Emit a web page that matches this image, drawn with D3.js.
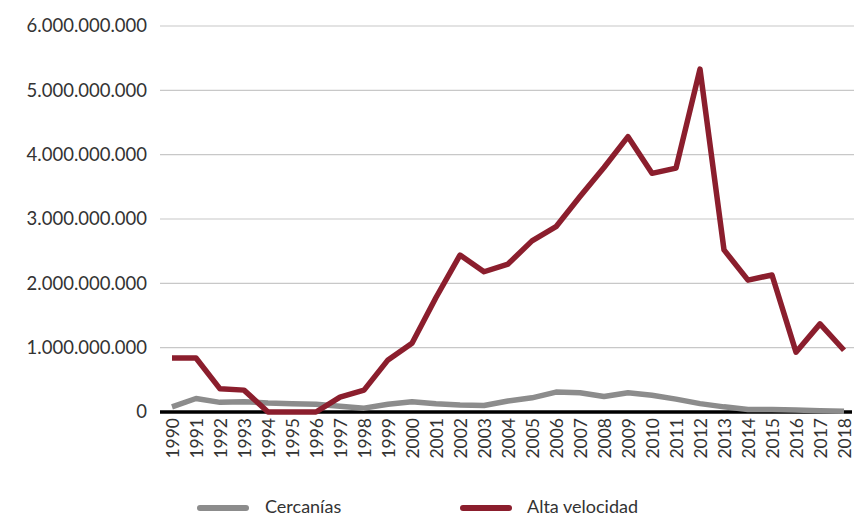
<!DOCTYPE html>
<html>
<head>
<meta charset="utf-8">
<script src="https://cdn.jsdelivr.net/npm/d3@7"></script>
<style>
  body { margin: 0; background: #fff; }
  svg { display: block; }
  text { font-family: Lato, "Open Sans", sans-serif; fill: #333; }
</style>
</head>
<body>
<svg id="chart" width="854" height="518"></svg>
<script>
const years = ["1990","1991","1992","1993","1994","1995","1996","1997","1998","1999","2000","2001","2002","2003","2004","2005","2006","2007","2008","2009","2010","2011","2012","2013","2014","2015","2016","2017","2018"];
const cercanias = [0.08e9,0.21e9,0.15e9,0.16e9,0.14e9,0.13e9,0.12e9,0.09e9,0.06e9,0.12e9,0.16e9,0.13e9,0.11e9,0.10e9,0.17e9,0.22e9,0.31e9,0.30e9,0.24e9,0.30e9,0.26e9,0.20e9,0.13e9,0.08e9,0.04e9,0.04e9,0.03e9,0.02e9,0.01e9];
const altaVelocidad = [0.84e9,0.84e9,0.36e9,0.34e9,0,0,0,0.23e9,0.34e9,0.81e9,1.07e9,1.78e9,2.44e9,2.18e9,2.30e9,2.66e9,2.88e9,3.35e9,3.80e9,4.28e9,3.71e9,3.79e9,5.33e9,2.52e9,2.05e9,2.13e9,0.93e9,1.37e9,0.96e9];
const yTicks = [0,1e9,2e9,3e9,4e9,5e9,6e9];
const seriesNames = ["Cercanías","Alta velocidad"];
const colors = ["#8c8c8c","#8b1e2d"];

const svg = d3.select("#chart");
const x = d3.scaleBand().domain(years).range([160, 856]);
const y = d3.scaleLinear().domain([0, 6e9]).range([412, 26]);
const fmt = v => v === 0 ? "0" : d3.format(",")(v).replace(/,/g, ".");

// gridlines
svg.append("g").selectAll("line").data(yTicks.filter(d => d > 0)).join("line")
  .attr("x1", 160).attr("x2", 854)
  .attr("y1", d => y(d)).attr("y2", d => y(d))
  .attr("stroke", "#c8c8c8").attr("stroke-width", 1.2);

// y labels
svg.append("g").selectAll("text").data(yTicks).join("text")
  .attr("x", 147).attr("y", d => y(d)).attr("dy", "0.35em")
  .attr("text-anchor", "end").attr("font-size", 18.5)
  .text(fmt);

// x axis line
svg.append("line").attr("x1", 160).attr("x2", 852).attr("y1", y(0)).attr("y2", y(0))
  .attr("stroke", "#000").attr("stroke-width", 3.5);

// x labels
svg.append("g").selectAll("text").data(years).join("text")
  .attr("transform", d => `translate(${x(d) + x.bandwidth()/2 + 6.5},418) rotate(-90)`)
  .attr("text-anchor", "end").attr("font-size", 17.5)
  .text(d => d);

const line = d3.line().x((d, i) => x(years[i]) + x.bandwidth()/2).y(d => y(d));
[cercanias, altaVelocidad].forEach((s, k) => {
  svg.append("path").datum(s).attr("d", line)
    .attr("fill", "none").attr("stroke", colors[k]).attr("stroke-width", 5.5)
    .attr("stroke-linejoin", "round").attr("stroke-linecap", "butt");
});

// legend
const legend = [{x: 200, tx: 265}, {x: 463, tx: 527}];
seriesNames.forEach((n, k) => {
  svg.append("line").attr("x1", legend[k].x).attr("x2", legend[k].x + 46)
    .attr("y1", 508).attr("y2", 508)
    .attr("stroke", colors[k]).attr("stroke-width", 6).attr("stroke-linecap", "round");
  svg.append("text").attr("x", legend[k].tx).attr("y", 507).attr("dy", "0.35em")
    .attr("font-size", 18).text(n);
});
</script>
</body>
</html>
